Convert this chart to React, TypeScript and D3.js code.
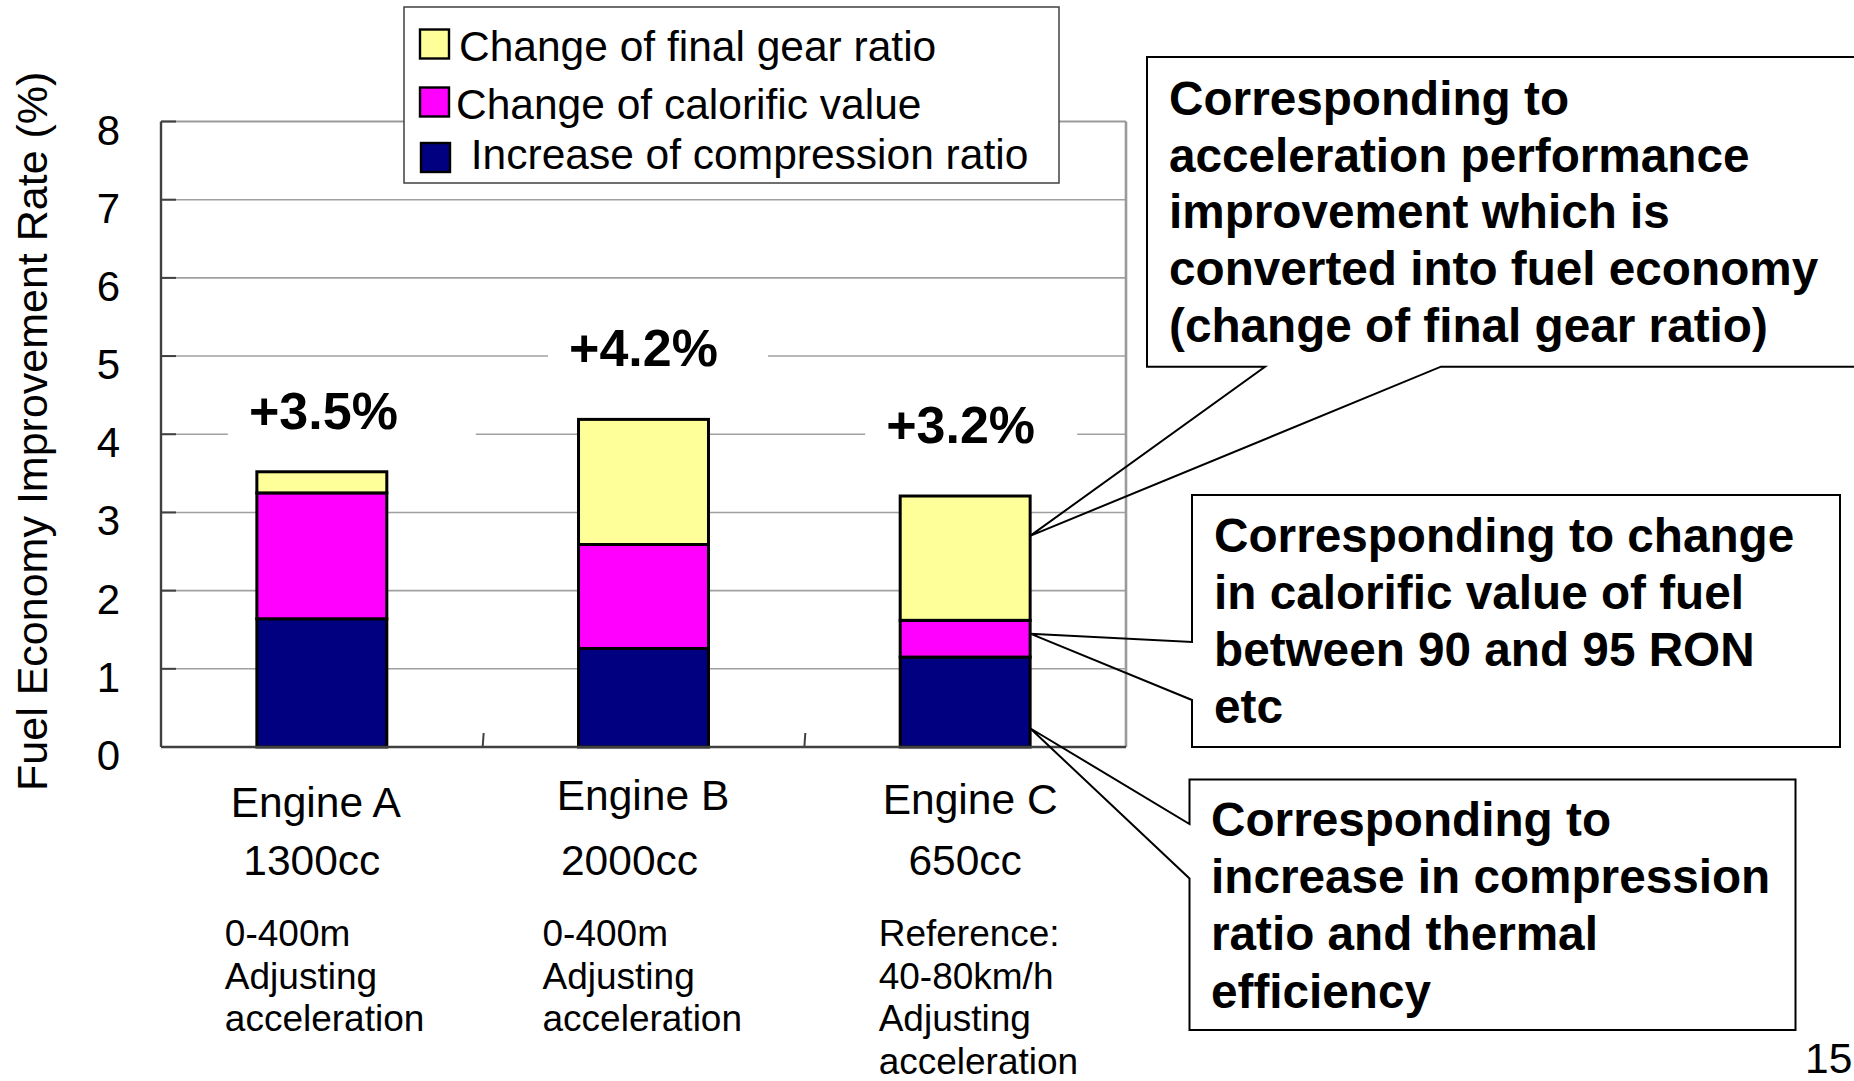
import React from "react";
import * as d3 from "d3";

// ---- data ----
const categories = ["Engine A", "Engine B", "Engine C"];
const compressionRatio = [1.64, 1.26, 1.15];
const calorificValue = [1.61, 1.33, 0.47];
const finalGearRatio = [0.27, 1.6, 1.59];
const totalLabels = ["+3.5%", "+4.2%", "+3.2%"];
const displacements = ["1300cc", "2000cc", "650cc"];
const testNotes = [
  ["0-400m", "Adjusting", "acceleration"],
  ["0-400m", "Adjusting", "acceleration"],
  ["Reference:", "40-80km/h", "Adjusting", "acceleration"],
];
const yTicks = [0, 1, 2, 3, 4, 5, 6, 7, 8];
const seriesKeys = ["compression", "calorific", "gear"];
const seriesColors = ["#000080", "#FF00FF", "#FFFF99"];
const legendLabels = ["Change of final gear ratio", "Change of calorific value", " Increase of compression ratio"];
const legendColors = ["#FFFF99", "#FF00FF", "#000080"];
const callout1 = ["Corresponding to", "acceleration performance", "improvement which is", "converted into fuel economy", "(change of final gear ratio)"];
const callout2 = ["Corresponding to change", "in calorific value of fuel", "between 90 and 95 RON", "etc"];
const callout3 = ["Corresponding to", "increase in compression", "ratio and thermal", "efficiency"];
// value (in %) on bar C where each callout pointer lands
const calloutAnchors = [2.7, 1.45, 0.24];
const yTitle = "Fuel Economy Improvement Rate (%)";
const pageNumber = "15";

const FONT = "'Liberation Sans', Arial, Helvetica, sans-serif";

export default function App() {
  const W = 1854, H = 1081;
  const left = 161, right = 1126, top = 121.5, bottom = 747;

  const y = d3.scaleLinear().domain([0, 8]).range([bottom, top]);
  const x = d3.scaleBand().domain(categories).range([left, right]).paddingInner(0.596).paddingOuter(0.298);
  const bw = x.bandwidth();
  const step = x.step();

  const rows = categories.map((c, i) => ({
    cat: c,
    compression: compressionRatio[i],
    calorific: calorificValue[i],
    gear: finalGearRatio[i],
  }));
  const stacked = d3.stack<any>().keys(seriesKeys)(rows);

  const center = (c: string) => (x(c) as number) + bw / 2;

  // layout tweaks for label text boxes
  const pctDx = [1.6, 0, -4.5];
  const pctBgL = [-94, -95.5, -100];
  const pctBgR = [154, 124.5, 112];
  const pctGap = [43, 53, 53];
  const nameDx = [-6, -0.5, 5];
  const nameY = [817, 810, 813.5];
  const ccDx = [-10, -14, 0];
  const noteDx = [-97, -101, -86.5];

  const barC = categories[2];
  const tipX = (x(barC) as number) + bw;
  const tips = calloutAnchors.map((v) => [tipX, y(v)]);

  const lineGen = d3.line();

  const box1 = lineGen([[1265, 366.7], [1147, 366.7], [1147, 57], [1875, 57], [1875, 366.7], [1441, 366.7], tips[0] as [number, number]]) + "Z";
  const box2 = lineGen([[1192, 642], [1192, 495], [1840, 495], [1840, 747], [1192, 747], [1192, 700], tips[1] as [number, number]]) + "Z";
  const box3 = lineGen([[1189.5, 824], [1189.5, 779.5], [1795.5, 779.5], [1795.5, 1030], [1189.5, 1030], [1189.5, 878.5], tips[2] as [number, number]]) + "Z";

  return (
    <div style={{ position: "absolute", left: 0, top: 0 }}>
      <svg width={W} height={H} viewBox={`0 0 ${W} ${H}`} style={{ display: "block", background: "#fff" }} fontFamily={FONT}>
        <rect x={0} y={0} width={W} height={H} fill="#fff" />
        {/* gridlines */}
        {yTicks.filter((t) => t > 0 && t < 8).map((t) => (
          <line key={"g" + t} x1={left} x2={right} y1={y(t)} y2={y(t)} stroke="#a0a0a0" strokeWidth={1.6} />
        ))}
        {/* plot top/right border */}
        <line x1={left} x2={right} y1={y(8)} y2={y(8)} stroke="#9a9a9a" strokeWidth={2} />
        <line x1={right} x2={right} y1={y(8)} y2={y(0)} stroke="#9a9a9a" strokeWidth={2.6} />

        {/* white label backgrounds */}
        {categories.map((c, i) => {
          const by = y(rows[i].compression + rows[i].calorific + rows[i].gear) - pctGap[i];
          return (
            <rect key={"bg" + c} x={center(c) + pctBgL[i]} y={by - 46} width={pctBgR[i] - pctBgL[i]} height={58} fill="#fff" />
          );
        })}

        {/* bars */}
        {stacked.map((s, si) => (
          <g key={s.key}>
            {s.map((d, i) => (
              <rect
                key={i}
                x={x(categories[i]) as number}
                y={y(d[1])}
                width={bw}
                height={y(d[0]) - y(d[1])}
                fill={seriesColors[si]}
                stroke="#000"
                strokeWidth={3}
              />
            ))}
          </g>
        ))}

        {/* axes */}
        <line x1={left} x2={left} y1={y(8)} y2={y(0)} stroke="#404040" strokeWidth={2.4} />
        <line x1={left} x2={right} y1={y(0)} y2={y(0)} stroke="#404040" strokeWidth={2.4} />
        {yTicks.map((t) => (
          <line key={"t" + t} x1={left} x2={left + 15} y1={y(t)} y2={y(t)} stroke="#404040" strokeWidth={2} />
        ))}
        {categories.slice(1).map((c) => (
          <line key={"sep" + c} x1={(x(c) as number) - (step - bw) / 2} x2={(x(c) as number) - (step - bw) / 2 + 1} y1={y(0)} y2={y(0) - 14} stroke="#404040" strokeWidth={2} />
        ))}
        {yTicks.map((t) => (
          <text key={"tl" + t} x={120} y={y(t) + 23} fontSize={42} textAnchor="end" fill="#000">
            {t}
          </text>
        ))}
        <text transform={`translate(47,${(top + bottom) / 2 - 3}) rotate(-90)`} fontSize={43} textAnchor="middle" fill="#000">
          {yTitle}
        </text>

        {/* total labels */}
        {categories.map((c, i) => {
          const by = y(rows[i].compression + rows[i].calorific + rows[i].gear) - pctGap[i];
          return (
            <text key={"pl" + c} x={center(c) + pctDx[i]} y={by} fontSize={52} fontWeight="bold" textAnchor="middle" fill="#000">
              {totalLabels[i]}
            </text>
          );
        })}

        {/* category labels */}
        {categories.map((c, i) => (
          <g key={"cl" + c}>
            <text x={center(c) + nameDx[i]} y={nameY[i]} fontSize={42.5} textAnchor="middle" fill="#000">{c}</text>
            <text x={center(c) + ccDx[i]} y={875} fontSize={42.5} textAnchor="middle" fill="#000">{displacements[i]}</text>
            {testNotes[i].map((n, j) => (
              <text key={j} x={center(c) + noteDx[i]} y={946 + j * 42.5} fontSize={37} fill="#000">{n}</text>
            ))}
          </g>
        ))}

        {/* legend */}
        <rect x={404} y={7} width={655} height={176} fill="#fff" stroke="#404040" strokeWidth={1.5} />
        {legendLabels.map((l, i) => {
          const sy = [29.5, 87.5, 143][i];
          const sx = [420, 420, 421][i];
          const tx = [459, 456, 459][i];
          const ty = [61, 119, 169][i];
          return (
            <g key={"lg" + i}>
              <rect x={sx} y={sy} width={29} height={29} fill={legendColors[i]} stroke="#000" strokeWidth={2.4} />
              <text x={tx} y={ty} fontSize={42.5} fill="#000" style={{ whiteSpace: "pre" }}>{l}</text>
            </g>
          );
        })}

        {/* callouts */}
        <path d={box1} fill="none" stroke="#000" strokeWidth={2} />
        <path d={box2} fill="none" stroke="#000" strokeWidth={2} />
        <path d={box3} fill="none" stroke="#000" strokeWidth={2} />
        {callout1.map((t, i) => (
          <text key={"c1" + i} x={1169} y={115 + i * 56.7} fontSize={47.7} fontWeight="bold" fill="#000">{t}</text>
        ))}
        {callout2.map((t, i) => (
          <text key={"c2" + i} x={1214} y={552 + i * 56.9} fontSize={47.7} fontWeight="bold" fill="#000">{t}</text>
        ))}
        {callout3.map((t, i) => (
          <text key={"c3" + i} x={1211} y={836 + i * 57.2} fontSize={47.7} fontWeight="bold" fill="#000">{t}</text>
        ))}

        <text x={1805} y={1073} fontSize={42.5} fill="#000">{pageNumber}</text>
      </svg>
    </div>
  );
}
